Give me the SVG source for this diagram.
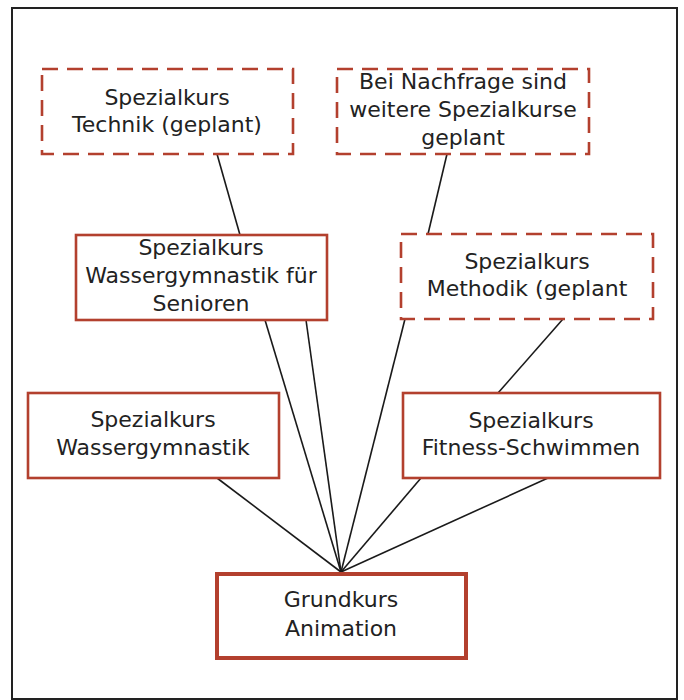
<svg xmlns="http://www.w3.org/2000/svg" width="684" height="700" viewBox="0 0 684 700">
<style>
.box{fill:#fff;stroke:#b3402e;stroke-width:2.6}
.dash{fill:#fff;stroke:#b3402e;stroke-width:2.6;stroke-dasharray:16 9}
.main{fill:#fff;stroke:#b3402e;stroke-width:4}
.t{font-family:"DejaVu Sans",sans-serif;font-size:22px;fill:#222;text-anchor:middle}
.c line{stroke:#1a1a1a;stroke-width:1.6}
</style>
<rect width="684" height="700" fill="#fff"/>
<rect x="12" y="8" width="665" height="691" fill="none" stroke="#222" stroke-width="2"/>
<g class="c" id="connectors">
<line x1="217" y1="154" x2="240" y2="235"/>
<line x1="447" y1="154" x2="428" y2="234"/>
<line x1="265" y1="320" x2="341" y2="572"/>
<line x1="306" y1="320" x2="341" y2="572"/>
<line x1="405" y1="319" x2="341" y2="572"/>
<line x1="563" y1="319" x2="498" y2="393"/>
<line x1="217" y1="478" x2="341" y2="572"/>
<line x1="421" y1="478" x2="341" y2="572"/>
<line x1="548" y1="478" x2="341" y2="572"/>
</g>
<g id="technik">
<rect class="dash" x="42" y="69" width="251" height="85"/>
<text class="t" x="167" y="105">Spezialkurs</text>
<text class="t" x="167" y="132">Technik (geplant)</text>
</g>
<g id="nachfrage">
<rect class="dash" x="337" y="69" width="252" height="85"/>
<text class="t" x="463" y="89">Bei Nachfrage sind</text>
<text class="t" x="463" y="117">weitere Spezialkurse</text>
<text class="t" x="463" y="145">geplant</text>
</g>
<g id="senioren">
<rect class="box" x="76" y="235" width="251" height="85"/>
<text class="t" x="201" y="255">Spezialkurs</text>
<text class="t" x="201" y="283">Wassergymnastik für</text>
<text class="t" x="201" y="311">Senioren</text>
</g>
<g id="methodik">
<rect class="dash" x="401" y="234" width="252" height="85"/>
<text class="t" x="527" y="269">Spezialkurs</text>
<text class="t" x="527" y="296">Methodik (geplant</text>
</g>
<g id="wassergymnastik">
<rect class="box" x="28" y="393" width="251" height="85"/>
<text class="t" x="153" y="427">Spezialkurs</text>
<text class="t" x="153" y="455">Wassergymnastik</text>
</g>
<g id="fitness">
<rect class="box" x="403" y="393" width="257" height="85"/>
<text class="t" x="531" y="428">Spezialkurs</text>
<text class="t" x="531" y="455">Fitness-Schwimmen</text>
</g>
<g id="grundkurs">
<rect class="main" x="217" y="574" width="249" height="84"/>
<text class="t" x="341" y="607">Grundkurs</text>
<text class="t" x="341" y="636">Animation</text>
</g>
</svg>
